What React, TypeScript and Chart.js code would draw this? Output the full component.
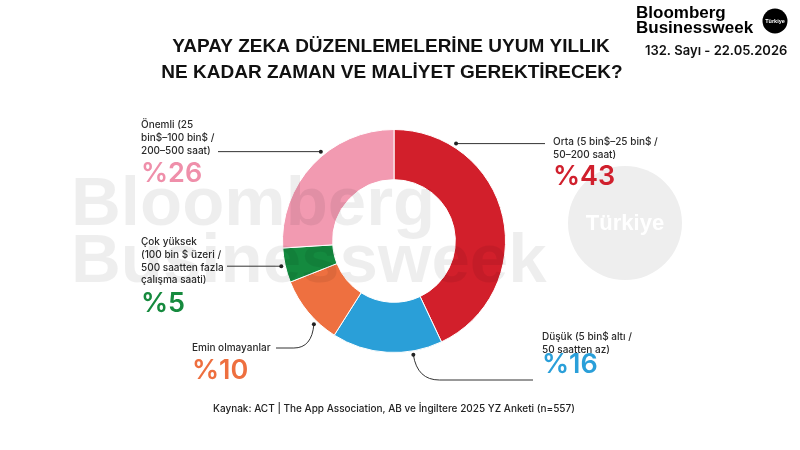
import React, { useEffect, useRef } from "react";
import { Chart, registerables } from "chart.js";

Chart.register(...registerables);

const categories = ["Orta", "Düşük", "Emin olmayanlar", "Çok yüksek", "Önemli"];
const values = [43, 16, 10, 5, 26];
const colors = ["#D21F2B", "#2A9FD8", "#EE7040", "#148A3F", "#F29AB1"];
const textColors = ["#D0202D", "#2A9FD9", "#EE6F3F", "#168A3E", "#EF8FAA"];
const labelLines = [
  ["Orta (5 bin$–25 bin$ /", "50–200 saat)"],
  ["Düşük (5 bin$ altı /", "50 saatten az)"],
  ["Emin olmayanlar"],
  ["Çok yüksek", "(100 bin $ üzeri /", "500 saatten fazla", "çalışma saati)"],
  ["Önemli (25", "bin$–100 bin$ /", "200–500 saat)"],
];
const titleLines = [
  "YAPAY ZEKA DÜZENLEMELERİNE UYUM YILLIK",
  "NE KADAR ZAMAN VE MALİYET GEREKTİRECEK?",
];
const sourceText = "Kaynak: ACT | The App Association, AB ve İngiltere 2025 YZ Anketi (n=557)";
const issueText = "132. Sayı - 22.05.2026";

// layout for annotations (positions, not data)
const annot = [
  { frac: 0.21, tx: 553, ty: 142, px: 553, py: 185, end: { x: 545 }, curve: null },
  { frac: 0.27, tx: 542, ty: 337, px: 542, py: 373, end: { x: 533, y: 380 }, curve: "down" },
  { frac: 0.32, tx: 192, ty: 348, px: 192, py: 379, end: { x: 276, y: 348 }, curve: "up" },
  { frac: 0.5, tx: 141, ty: 242, px: 141, py: 312, end: { x: 227 }, curve: null },
  { frac: 0.58, tx: 141, ty: 125, px: 141, py: 182, end: { x: 218 }, curve: null },
];

const LABEL_FONT = '500 10px Inter, "Liberation Sans", sans-serif';
const PCT_FONT = '600 27px Inter, "Liberation Sans", sans-serif';

const overlay = {
  id: "overlay",
  beforeDraw(chart: any) {
    const ctx = chart.ctx;
    ctx.save();
    ctx.fillStyle = "#eeeeee";
    ctx.beginPath();
    ctx.arc(625, 223, 57, 0, Math.PI * 2);
    ctx.fill();
    ctx.fillStyle = "#ffffff";
    ctx.font = 'bold 22px "Liberation Sans", Arial, sans-serif';
    ctx.textAlign = "center";
    ctx.textBaseline = "middle";
    ctx.fillText("Türkiye", 625, 224);
    ctx.restore();
  },
  afterDatasetsDraw(chart: any) {
    const ctx = chart.ctx;
    ctx.save();
    ctx.fillStyle = "rgba(0,0,0,0.065)";
    ctx.font = 'bold 69px "Liberation Sans", Arial, sans-serif';
    ctx.textBaseline = "alphabetic";
    ctx.textAlign = "left";
    ctx.fillText("Bloomberg", 71, 225);
    ctx.fillText("Businessweek", 71, 282);
    ctx.restore();
  },
  afterDraw(chart: any) {
    const ctx = chart.ctx;
    ctx.save();
    // title
    ctx.fillStyle = "#111111";
    ctx.font = 'bold 19px "Liberation Sans", Arial, sans-serif';
    ctx.textAlign = "center";
    ctx.textBaseline = "middle";
    ctx.fillText(titleLines[0], 391, 47);
    ctx.fillText(titleLines[1], 392, 73);

    // logo
    ctx.textAlign = "left";
    ctx.textBaseline = "alphabetic";
    ctx.font = 'bold 17px "Liberation Sans", Arial, sans-serif';
    ctx.fillStyle = "#000000";
    ctx.fillText("Bloomberg", 636, 18);
    ctx.fillText("Businessweek", 636, 32.5);
    ctx.beginPath();
    ctx.arc(775, 21, 12.5, 0, Math.PI * 2);
    ctx.fill();
    ctx.fillStyle = "#ffffff";
    ctx.font = 'bold 5.5px "Liberation Sans", Arial, sans-serif';
    ctx.textAlign = "center";
    ctx.textBaseline = "middle";
    ctx.fillText("Türkiye", 775, 21.5);
    ctx.fillStyle = "#111111";
    ctx.font = '600 13px Inter, "Liberation Sans", sans-serif';
    ctx.textAlign = "left";
    ctx.fillText(issueText, 645, 51);

    // source
    ctx.font = '500 10px Inter, "Liberation Sans", sans-serif';
    ctx.fillStyle = "#222222";
    ctx.fillText(sourceText, 213, 409);

    // labels and leaders
    const meta = chart.getDatasetMeta(0);
    meta.data.forEach((arc: any, i: number) => {
      const a = annot[i];
      const p = arc.getProps(["x", "y", "startAngle", "endAngle", "outerRadius"], true);
      const ang = p.startAngle + (p.endAngle - p.startAngle) * a.frac;
      const r = p.outerRadius + 4;
      const dx = p.x + Math.cos(ang) * r;
      const dy = p.y + Math.sin(ang) * r;
      ctx.strokeStyle = "#333333";
      ctx.lineWidth = 1;
      ctx.beginPath();
      if (!a.curve) {
        ctx.moveTo(dx, dy);
        ctx.lineTo(a.end.x, dy);
      } else if (a.curve === "down") {
        const ey = a.end.y as number;
        ctx.moveTo(dx, dy);
        ctx.quadraticCurveTo(dx + 4, ey, dx + 26, ey);
        ctx.lineTo(a.end.x, ey);
      } else {
        const ey = a.end.y as number;
        ctx.moveTo(a.end.x, ey);
        ctx.lineTo(dx - 20, ey);
        ctx.quadraticCurveTo(dx - 2, ey, dx, dy);
      }
      ctx.stroke();
      ctx.fillStyle = "#222222";
      ctx.beginPath();
      ctx.arc(dx, dy, 2, 0, Math.PI * 2);
      ctx.fill();

      ctx.fillStyle = "#2a2a2a";
      ctx.font = LABEL_FONT;
      ctx.textAlign = "left";
      ctx.textBaseline = "middle";
      labelLines[i].forEach((ln, k) => {
        ctx.fillText(ln, a.tx, a.ty + k * 12.8);
      });
      ctx.fillStyle = textColors[i];
      ctx.font = PCT_FONT;
      ctx.textBaseline = "alphabetic";
      ctx.fillText("%" + values[i], a.px, a.py);
    });
    ctx.restore();
  },
};

export default function App() {
  const ref = useRef<HTMLCanvasElement | null>(null);
  useEffect(() => {
    if (!ref.current) return;
    const chart = new Chart(ref.current, {
      type: "doughnut",
      data: {
        labels: categories,
        datasets: [
          {
            data: values,
            backgroundColor: colors,
            borderColor: "#ffffff",
            borderWidth: 1,
          },
        ],
      },
      options: {
        responsive: false,
        animation: false,
        cutout: "55%",
        layout: { padding: { left: 282, right: 294, top: 128, bottom: 96 } },
        plugins: {
          legend: { display: false },
          title: { display: false },
          tooltip: { enabled: false },
        },
      },
      plugins: [overlay],
    });
    return () => chart.destroy();
  }, []);
  return (
    <div style={{ position: "absolute", left: 0, top: 0, width: 800, height: 450, background: "#fff" }}>
      <canvas ref={ref} width={800} height={450} />
    </div>
  );
}
